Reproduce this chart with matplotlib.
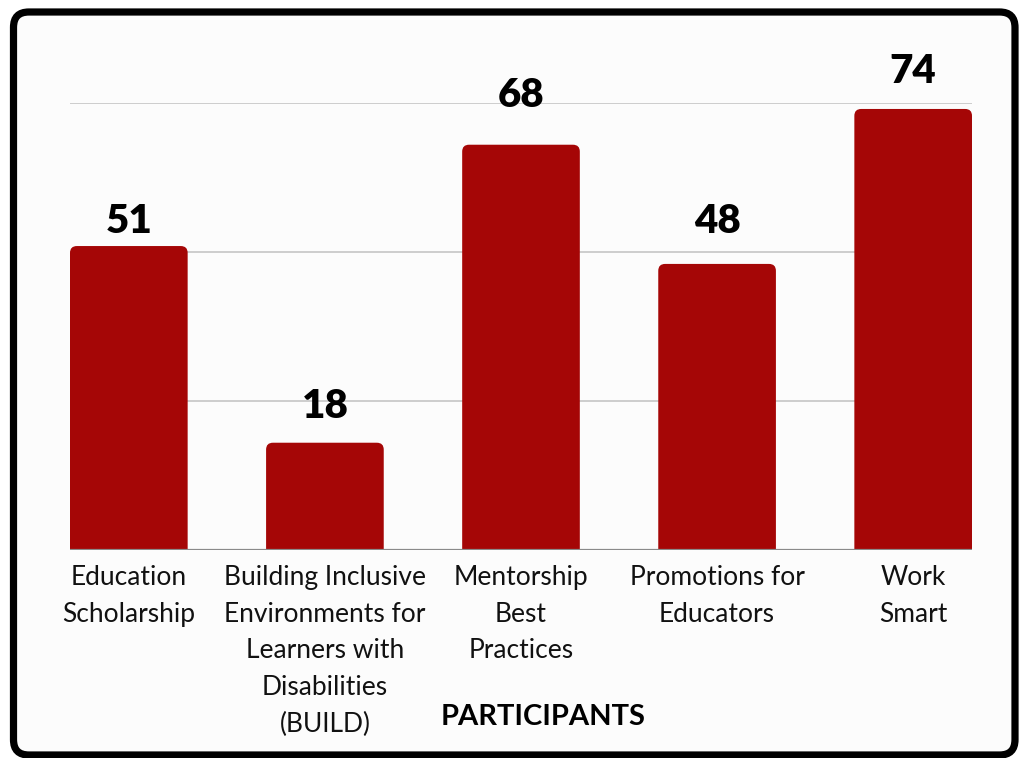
import matplotlib.pyplot as plt
from matplotlib.patches import FancyBboxPatch

categories = ["Education\nScholarship",
              "Building Inclusive\nEnvironments for\nLearners with\nDisabilities\n(BUILD)",
              "Mentorship\nBest\nPractices",
              "Promotions for\nEducators",
              "Work\nSmart"]
participants = [51, 18, 68, 48, 74]
grid_ticks = [25, 50, 75]

# the value labels sit at uneven heights above the bars (pixels)
label_gap_px = [6, 18, 31, 24, 19]

BAR = "#a50606"
plt.rcParams["font.family"] = ["Lato", "DejaVu Sans"]

W, H = 1024, 758
fig = plt.figure(figsize=(W / 100, H / 100), dpi=100)
fig.patch.set_facecolor("white")

# outer rounded frame
frame = FancyBboxPatch((13.5 / W, 3.0 / H), (1015 - 13.5) / W, (746 - 3) / H,
                       boxstyle="round,pad=0,rounding_size=0.015",
                       transform=fig.transFigure, facecolor="#fcfcfc",
                       edgecolor="black", linewidth=5.2, mutation_aspect=W / H,
                       zorder=-5)
fig.patches.append(frame)

ax = fig.add_axes([70 / W, (H - 550) / H, 902 / W, 447 / H])
ax.set_facecolor("none")
x = list(range(len(categories)))
bars = ax.bar(x, participants, width=0.6, color=BAR)

ax.set_xlim(-0.3, len(categories) - 0.7)
ax.set_ylim(0, 75)

# swap plain rectangles for ones with rounded tops
py = 75 / 447.0
px = (len(categories) - 0.4) / 902.0
for r in bars.patches:
    r.set_visible(False)
    p = FancyBboxPatch((r.get_x(), -3), r.get_width(), r.get_height() + 3,
                       boxstyle="round,pad=0,rounding_size=0.035",
                       mutation_aspect=py / px, facecolor=BAR, edgecolor="none",
                       zorder=3, clip_on=True)
    ax.add_patch(p)

for t in grid_ticks:
    ax.axhline(t, color="#c0c0c0", lw=1.1, zorder=1)
ax.axhline(0, color="#8a8a8a", lw=1.6, zorder=4)

for xi, v, g in zip(x, participants, label_gap_px):
    ax.annotate(str(v), (xi, v), xytext=(0, g * 0.72), textcoords="offset points",
                ha="center", va="bottom", fontsize=29, fontweight="heavy",
                color="black")

for s in ax.spines.values():
    s.set_visible(False)
ax.set_yticks([])
ax.set_xticks(x)
ax.set_xticklabels(categories, fontsize=19, linespacing=1.58, color="#111111")
ax.tick_params(axis="x", length=0, pad=11)

ax.text((543 - 70) / 902, -(717 - 550) / 447, "PARTICIPANTS", transform=ax.transAxes,
        ha="center", va="center", fontsize=21, fontweight="bold")

fig.savefig("out.png", dpi=100)
